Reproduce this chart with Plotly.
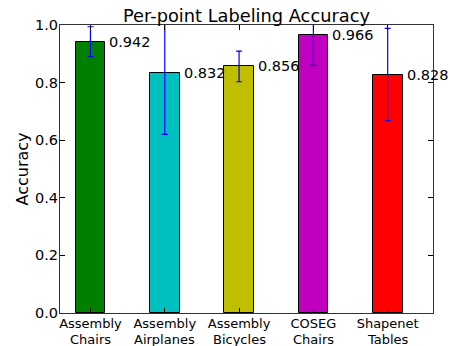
import plotly.graph_objects as go

# Per-dataset labeling accuracy with standard deviation
label_top = ["Assembly", "Assembly", "Assembly", "COSEG", "Shapenet"]
label_bottom = ["Chairs", "Airplanes", "Bicycles", "Chairs", "Tables"]
accuracy = [0.942, 0.832, 0.856, 0.966, 0.828]
std_dev = [0.052, 0.212, 0.053, 0.106, 0.160]
bar_colors = ["#008000", "#00bfbf", "#bfbf00", "#bf00bf", "#ff0000"]
y_ticks = [0.0, 0.2, 0.4, 0.6, 0.8, 1.0]

FONT = "DejaVu Sans"
bar_width = 0.4
positions = list(range(len(accuracy)))

fig = go.Figure()
fig.add_trace(go.Bar(
    x=positions,
    y=accuracy,
    width=bar_width,
    marker=dict(color=bar_colors, line=dict(color="#000000", width=1)),
    error_y=dict(type="data", array=std_dev, symmetric=True,
                 color="#0000ff", thickness=1.2, width=3),
    hoverinfo="skip",
))

# value labels just right of each bar top
for xi, v in zip(positions, accuracy):
    fig.add_annotation(
        x=xi + bar_width / 2, y=v, xref="x", yref="y",
        text=f"{v:.3f}", showarrow=False,
        xanchor="left", yanchor="middle", xshift=2,
        font=dict(family=FONT, size=14.5, color="#000000"),
    )

# second line of each category name, set tight under the tick label
for xi, word in zip(positions, label_bottom):
    fig.add_annotation(
        x=xi, y=0, xref="x", yref="paper",
        text=word, showarrow=False,
        xanchor="center", yanchor="top", yshift=-16.5,
        font=dict(family=FONT, size=13, color="#000000"),
    )

axis_common = dict(
    showline=True, linecolor="#333333", linewidth=1, mirror="ticks",
    ticks="inside", ticklen=5, tickcolor="#000000", tickwidth=1,
    showgrid=False, zeroline=False, automargin=False,
)

fig.update_layout(
    width=450, height=346,
    margin=dict(l=60, r=17, t=25, b=33),
    paper_bgcolor="white", plot_bgcolor="white",
    showlegend=False,
    bargap=0,
    font=dict(family=FONT, color="#000000"),
    title=dict(text="Per-point Labeling Accuracy",
               font=dict(family=FONT, size=17.8, color="#000000"),
               x=0.5, xref="paper", xanchor="center",
               y=1 - 15.5 / 346, yref="container", yanchor="middle"),
    xaxis=dict(range=[-0.41, 4.61], tickmode="array", tickvals=positions,
               ticktext=label_top, tickfont=dict(family=FONT, size=13),
               ticklabelstandoff=-2,
               **axis_common),
    yaxis=dict(range=[0, 1.0], tickmode="array", tickvals=y_ticks,
               ticktext=[f"{t:.1f}" for t in y_ticks],
               tickfont=dict(family=FONT, size=14.5),
               ticklabelstandoff=-2,
               title=dict(text="Accuracy", font=dict(family=FONT, size=16), standoff=2),
               **axis_common),
)

fig.write_html("out.html")
